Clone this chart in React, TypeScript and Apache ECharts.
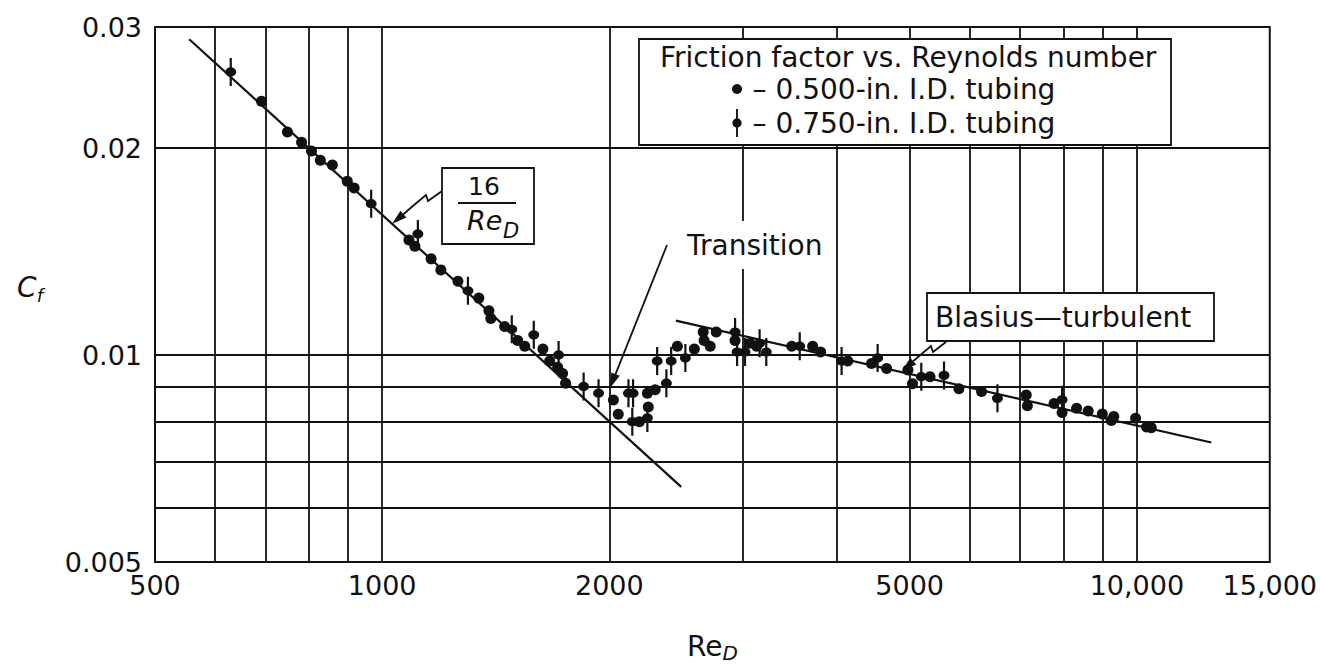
import React, { useEffect, useRef } from 'react';
import * as echarts from 'echarts';

const FONT = "'DejaVu Sans', 'Liberation Sans', sans-serif";
const INK = '#111';

// Axis tick labels and grid-line values
const xTickValues = [500, 1000, 2000, 5000, 10000, 15000];
const yTickValues = [0.005, 0.01, 0.02, 0.03];
const xGridValues = [600, 700, 800, 900, 1000, 2000, 3000, 4000, 5000, 6000, 7000, 8000, 9000, 10000];
const yGridValues = [0.006, 0.007, 0.008, 0.009, 0.01, 0.02];

// 0.500-in. I.D. tubing (plain dots)
const tube500Re = [692, 749, 782, 806, 828, 859, 899, 918, 1085, 1105, 1161, 1196, 1260, 1343, 1385, 1393, 1453, 1512, 1545, 1633, 1667, 1708, 1734, 1750, 2025, 2055, 2192, 2252, 2246, 2300, 2461, 2592, 2663, 2670, 2720, 2771, 2935, 3071, 3135, 3489, 3719, 3810, 4139, 4450, 4660, 4973, 5043, 5320, 5810, 6226, 7135, 7160, 7768, 7960, 8320, 8620, 9000, 9320, 9250, 9960, 10300, 10450];
const tube500Cf = [0.0234, 0.0211, 0.0204, 0.0198, 0.0192, 0.0189, 0.0179, 0.0175, 0.0147, 0.0144, 0.0138, 0.0133, 0.0128, 0.0121, 0.0116, 0.0113, 0.011, 0.0105, 0.0103, 0.0102, 0.0098, 0.0096, 0.0094, 0.0091, 0.0086, 0.0082, 0.008, 0.0084, 0.0088, 0.0089, 0.0103, 0.0102, 0.0108, 0.0105, 0.0103, 0.0108, 0.0105, 0.0104, 0.0103, 0.0103, 0.0103, 0.0101, 0.0098, 0.00972, 0.00956, 0.00951, 0.00908, 0.0093, 0.00893, 0.00885, 0.00875, 0.00844, 0.0085, 0.00825, 0.00837, 0.00829, 0.00821, 0.00814, 0.00803, 0.00809, 0.00786, 0.00784];

// 0.750-in. I.D. tubing (dots with vertical bars)
const tube750Re = [630, 967, 1115, 1299, 1485, 1588, 1713, 1849, 1935, 2120, 2150, 2145, 2246, 2314, 2380, 2415, 2522, 2935, 2953, 3025, 3163, 3228, 3575, 4062, 4534, 5180, 5552, 6535, 7960];
const tube750Cf = [0.0258, 0.0166, 0.015, 0.0124, 0.0109, 0.0107, 0.01, 0.009, 0.0088, 0.0088, 0.0088, 0.008, 0.0081, 0.0098, 0.0091, 0.0098, 0.0099, 0.0108, 0.0101, 0.0101, 0.0104, 0.0101, 0.0103, 0.0098, 0.0099, 0.0093, 0.00934, 0.00865, 0.00861];

// Reference lines (end points)
const laminarRe = [555, 2490];
const laminarCf = [0.0288, 0.00643];
const blasiusRe = [2450, 12550];
const blasiusCf = [0.01122, 0.00746];

const SERIES_500 = '0.500-in. I.D. tubing';
const SERIES_750 = '0.750-in. I.D. tubing';
const BAR_SYMBOL = 'path://M4,0h2v30h-2z M0,15a5,5 0 1,1 10,0a5,5 0 1,1 -10,0z';

const zip = (a: number[], b: number[]) => a.map((v, i) => [v, b[i]]);
const withCommas = (n: number) => String(n).replace(/\B(?=(\d{3})+(?!\d))/g, ',');

function arrowHead(tip: [number, number], from: [number, number], len: number, half: number) {
  const dx = tip[0] - from[0];
  const dy = tip[1] - from[1];
  const l = Math.hypot(dx, dy);
  const ux = dx / l, uy = dy / l;
  const bx = tip[0] - ux * len, by = tip[1] - uy * len;
  const px = -uy * half, py = ux * half;
  return {
    base: [bx, by] as [number, number],
    points: [tip, [bx + px, by + py], [bx - px, by - py]],
  };
}

export default function App() {
  const ref = useRef<HTMLDivElement>(null);

  useEffect(() => {
    document.body.style.margin = '0';
    if (!ref.current) return;
    const chart = echarts.init(ref.current, null, { renderer: 'svg' });

    const lam = arrowHead([392, 224], [414, 205], 15, 4.5);
    const bla = arrowHead([902, 371], [918, 357], 15, 4.5);
    const tra = arrowHead([610, 388], [667, 245], 15, 4.5);

    const lineStyle = { stroke: INK, lineWidth: 1.8, fill: null };

    chart.setOption({
      animation: false,
      backgroundColor: '#fff',
      textStyle: { fontFamily: FONT, color: INK },
      grid: {
        left: 155,
        right: 50,
        top: 27,
        bottom: 95,
        show: true,
        borderColor: INK,
        borderWidth: 2,
        backgroundColor: 'transparent',
      },
      xAxis: {
        type: 'log',
        logBase: 10,
        min: 500,
        max: 15000,
        name: '{a|Re}{b|D}',
        nameLocation: 'middle',
        nameGap: 67,
        nameTextStyle: {
          rich: {
            a: { fontFamily: FONT, fontSize: 28, color: INK, lineHeight: 34 },
            b: { fontFamily: FONT, fontSize: 20, fontStyle: 'italic', color: INK, verticalAlign: 'bottom', lineHeight: 20 },
          },
        },
        axisLine: { show: false },
        axisTick: { show: false },
        splitLine: { show: false },
        axisLabel: {
          customValues: xTickValues,
          margin: 10,
          fontFamily: FONT,
          fontSize: 27,
          color: INK,
          formatter: (v: number) => {
            const r = Math.round(v);
            return r >= 10000 ? withCommas(r) : String(r);
          },
        },
      },
      yAxis: {
        type: 'log',
        logBase: 10,
        min: 0.005,
        max: 0.03,
        name: '{a|C}{b|f}',
        nameLocation: 'middle',
        nameRotate: 0,
        nameGap: 112,
        nameTextStyle: {
          padding: [0, 0, 14, 0],
          rich: {
            a: { fontFamily: FONT, fontSize: 28, fontStyle: 'italic', color: INK, lineHeight: 34 },
            b: { fontFamily: FONT, fontSize: 18, fontStyle: 'italic', color: INK, verticalAlign: 'bottom', lineHeight: 18 },
          },
        },
        axisLine: { show: false },
        axisTick: { show: false },
        splitLine: { show: false },
        axisLabel: {
          customValues: yTickValues,
          margin: 13,
          fontFamily: FONT,
          fontSize: 27,
          color: INK,
          formatter: (v: number) => String(parseFloat(v.toPrecision(2))),
        },
      },
      legend: {
        data: [
          { name: SERIES_500, icon: 'circle' },
          { name: SERIES_750, icon: BAR_SYMBOL },
        ],
        orient: 'vertical',
        left: 732,
        top: 75,
        padding: 0,
        itemWidth: 10,
        itemHeight: 28,
        itemGap: 6,
        selectedMode: false,
        z: 300,
        formatter: (n: string) => '\u2009\u2013 ' + n,
        textStyle: { fontFamily: FONT, fontSize: 28, color: INK },
      },
      series: [
        {
          type: 'line',
          name: '16/ReD',
          data: zip(laminarRe, laminarCf),
          symbol: 'none',
          silent: true,
          z: 2,
          lineStyle: { color: INK, width: 2.2 },
          markLine: {
            silent: true,
            precision: 6,
            symbol: ['none', 'none'],
            label: { show: false },
            emphasis: { disabled: true },
            lineStyle: { color: INK, width: 1.8, type: 'solid' },
            data: [
              ...xGridValues.map((v) => ({ xAxis: v })),
              ...yGridValues.map((v) => ({ yAxis: v })),
            ],
          },
        },
        {
          type: 'line',
          name: 'Blasius',
          data: zip(blasiusRe, blasiusCf),
          symbol: 'none',
          silent: true,
          z: 2,
          lineStyle: { color: INK, width: 2.2 },
        },
        {
          type: 'scatter',
          name: SERIES_500,
          data: zip(tube500Re, tube500Cf),
          symbol: 'circle',
          symbolSize: 11,
          z: 3,
          itemStyle: { color: INK, opacity: 1 },
        },
        {
          type: 'scatter',
          name: SERIES_750,
          data: zip(tube750Re, tube750Cf),
          symbol: BAR_SYMBOL,
          symbolSize: [11, 28],
          z: 3,
          itemStyle: { color: INK, opacity: 1 },
        },
      ],
      graphic: [
        // legend frame and title
        {
          type: 'rect', z: 100,
          shape: { x: 639, y: 39, width: 532, height: 106 },
          style: { fill: '#fff', stroke: INK, lineWidth: 1.8 },
        },
        {
          type: 'text', z: 101, x: 660, y: 57,
          style: { text: 'Friction factor vs. Reynolds number', fontFamily: FONT, fontSize: 28, fill: INK, verticalAlign: 'middle' },
        },
        // 16/Re_D label box
        {
          type: 'rect', z: 100,
          shape: { x: 442, y: 168, width: 92, height: 76 },
          style: { fill: '#fff', stroke: INK, lineWidth: 1.8 },
        },
        {
          type: 'text', z: 101, x: 484, y: 186,
          style: { text: '16', fontFamily: FONT, fontSize: 25, fill: INK, align: 'center', verticalAlign: 'middle' },
        },
        {
          type: 'line', z: 101,
          shape: { x1: 458, y1: 203, x2: 516, y2: 203 },
          style: { stroke: INK, lineWidth: 1.8 },
        },
        {
          type: 'text', z: 101, x: 467, y: 220,
          style: { text: 'Re', fontFamily: FONT, fontSize: 27, fontStyle: 'italic', fill: INK, verticalAlign: 'middle' },
        },
        {
          type: 'text', z: 101, x: 503, y: 231,
          style: { text: 'D', fontFamily: FONT, fontSize: 21, fontStyle: 'italic', fill: INK, verticalAlign: 'middle' },
        },
        {
          type: 'polyline', z: 101,
          shape: { points: [[442, 191], [428, 201], [426, 195], [414, 205], lam.base] },
          style: lineStyle,
        },
        { type: 'polygon', z: 101, shape: { points: lam.points }, style: { fill: INK } },
        // Transition label and arrow
        {
          type: 'text', z: 101, x: 683, y: 245,
          style: {
            text: 'Transition', fontFamily: FONT, fontSize: 28, fill: INK, verticalAlign: 'middle',
            backgroundColor: '#fff', padding: [10, 4, 10, 4],
          },
        },
        {
          type: 'line', z: 102,
          shape: { x1: 667, y1: 245, x2: tra.base[0], y2: tra.base[1] },
          style: { stroke: INK, lineWidth: 1.8 },
        },
        { type: 'polygon', z: 102, shape: { points: tra.points }, style: { fill: INK } },
        // Blasius label box and arrow
        {
          type: 'rect', z: 100,
          shape: { x: 927, y: 293, width: 287, height: 48 },
          style: { fill: '#fff', stroke: INK, lineWidth: 1.8 },
        },
        {
          type: 'text', z: 101, x: 935, y: 317,
          style: { text: 'Blasius\u2014turbulent', fontFamily: FONT, fontSize: 28, fill: INK, verticalAlign: 'middle' },
        },
        {
          type: 'polyline', z: 101,
          shape: { points: [[946, 342], [933, 352], [931, 346], [918, 357], bla.base] },
          style: lineStyle,
        },
        { type: 'polygon', z: 101, shape: { points: bla.points }, style: { fill: INK } },
      ],
    });

    return () => chart.dispose();
  }, []);

  return <div ref={ref} style={{ width: 1320, height: 668 }} />;
}
